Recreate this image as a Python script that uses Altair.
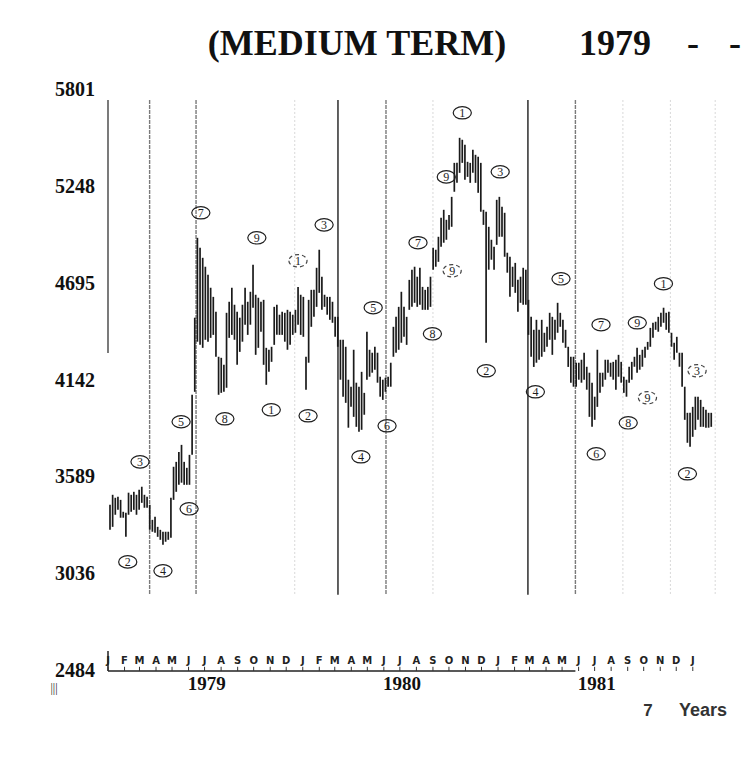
import altair as alt
import pandas as pd

# ---- price bars (high / low) ----
highs = [
    3433, 3490, 3473, 3479, 3461, 3393, 3387, 3502, 3490, 3507,
    3490, 3519, 3536, 3490, 3479, 3433, 3347, 3364, 3307, 3290,
    3279, 3279, 3279, 3473, 3650, 3678, 3735, 3775, 3678, 3644,
    3718, 4061, 4501, 4957, 4900, 4843, 4792, 4746, 4672, 4620,
    4535, 4278, 4272, 4232, 4529, 4592, 4672, 4575, 4535, 4501,
    4575, 4672, 4592, 4649, 4803, 4632, 4615, 4592, 4603, 4329,
    4318, 4335, 4563, 4575, 4518, 4535, 4529, 4546, 4535, 4518,
    4546, 4677, 4632, 4620, 4278, 4603, 4660, 4660, 4786, 4889,
    4735, 4632, 4620, 4620, 4592, 4506, 4506, 4375, 4375, 4335,
    4147, 4107, 4318, 4130, 4107, 4192, 4072, 4421, 4318, 4301,
    4335, 4301, 4164, 4147, 4158, 4164, 4244, 4449, 4506, 4563,
    4649, 4563, 4506, 4717, 4775, 4792, 4735, 4786, 4677, 4660,
    4677, 4735, 4900, 4889, 4963, 5071, 5117, 5060, 5088, 5191,
    5385, 5385, 5528, 5517, 5488, 5391, 5385, 5460, 5431, 5420,
    5385, 5117, 5106, 5020, 4946, 4906, 5174, 5191, 5134, 5100,
    4872, 4849, 4792, 4814, 4717, 4735, 4786, 4775, 4603, 4506,
    4432, 4489, 4432, 4489, 4415, 4449, 4529, 4506, 4489, 4586,
    4529, 4489, 4432, 4335, 4278, 4278, 4244, 4244, 4261, 4301,
    4221, 4187, 4130, 4050, 4318, 4187, 4187, 4261, 4261, 4244,
    4249, 4261, 4289, 4249, 4164, 4147, 4221, 4249, 4278, 4329,
    4289, 4318, 4335, 4363, 4443, 4472, 4478, 4506, 4529, 4558,
    4529, 4535, 4415, 4358, 4392, 4301, 4301, 4107, 3958, 3958,
    3992, 4050, 4050, 4032, 3992, 3975, 3958, 3958,
]
lows = [
    3290, 3307, 3376, 3404, 3359, 3359, 3250, 3376, 3393, 3404,
    3376, 3404, 3444, 3416, 3416, 3290, 3279, 3273, 3250, 3233,
    3205, 3222, 3233, 3245, 3461, 3507, 3547, 3559, 3547, 3547,
    3547, 3718, 4078, 4364, 4346, 4329, 4375, 4364, 4386, 4403,
    4278, 4061, 4072, 4078, 4101, 4386, 4403, 4375, 4232, 4306,
    4364, 4461, 4403, 4461, 4558, 4289, 4329, 4421, 4232, 4118,
    4192, 4249, 4346, 4403, 4403, 4403, 4364, 4318, 4346, 4403,
    4415, 4461, 4403, 4392, 4090, 4244, 4449, 4506, 4563, 4643,
    4546, 4563, 4518, 4489, 4472, 4392, 4335, 4147, 4050, 4015,
    3873, 3992, 3935, 3878, 3850, 3861, 3947, 4147, 4164, 4187,
    4204, 4130, 4050, 4032, 4078, 4107, 4107, 4278, 4301, 4318,
    4358, 4392, 4346, 4546, 4563, 4586, 4563, 4575, 4546, 4546,
    4546, 4563, 4775, 4792, 4820, 4906, 4929, 4946, 5003, 5020,
    5220, 5271, 5328, 5385, 5288, 5305, 5271, 5328, 5271, 5214,
    5106, 5031, 4358, 4775, 4832, 4775, 4917, 4963, 4963, 4849,
    4758, 4620, 4677, 4643, 4535, 4586, 4575, 4575, 4403, 4278,
    4220, 4244, 4261, 4278, 4306, 4335, 4375, 4289, 4375, 4415,
    4449, 4358, 4329, 4220, 4130, 4107, 4107, 4147, 4130, 4147,
    4090, 3935, 3878, 3918, 3992, 4072, 4107, 4147, 4187, 4164,
    4147, 4090, 4164, 4130, 4072, 4050, 4130, 4147, 4221, 4187,
    4204, 4221, 4272, 4318, 4335, 4386, 4432, 4421, 4449, 4472,
    4432, 4415, 4335, 4261, 4301, 4221, 4107, 3918, 3787, 3764,
    3821, 3861, 3918, 3878, 3878, 3873, 3873, 3878,
]
bar_start = "1979-01-04 18:00"
bar_end = "1982-02-04 14:00"

y_ticks = [2484, 3036, 3589, 4142, 4695, 5248, 5801]

month_letters = list("JFMAMJJASOND") * 3 + ["J"]
year_labels = ["1979", "1980", "1981"]
year_dates = ["1979-07-05", "1980-07-05", "1981-07-05"]

# cycle lines
dark_lines = ["1980-03-07", "1981-02-26"]
mid_lines = ["1979-03-20", "1979-06-15", "1980-06-05", "1981-05-26"]
faint_lines = ["1979-12-17", "1980-09-01", "1981-08-23", "1981-11-20", "1982-02-12"]
line_top, line_bottom = 5744, 2919
left_line = ["1979-01-01"]
left_line_bottom = 4300

# wave count annotations
wave_dates = ["1979-02-07", "1979-03-02", "1979-04-14", "1979-05-18", "1979-06-02",
              "1979-06-24", "1979-08-08", "1979-10-07", "1979-11-03", "1979-12-23",
              "1980-01-11", "1980-02-10", "1980-04-19", "1980-05-12", "1980-06-07",
              "1980-08-04", "1980-08-31", "1980-09-26", "1980-10-07", "1980-10-26",
              "1980-12-10", "1981-01-05", "1981-03-12", "1981-04-29", "1981-07-04",
              "1981-07-13", "1981-09-02", "1981-09-19", "1981-10-08", "1981-11-07",
              "1982-01-09", "1981-12-22"]
wave_values = [3107, 3678, 3056, 3907, 3410, 5100, 3924, 4957, 3975, 4826,
               3941, 5031, 3707, 4558, 3884, 4929, 4409, 5305, 4769, 5671,
               4198, 5334, 4078, 4723, 3724, 4461, 3901, 4472, 4044, 4695,
               4198, 3610]
wave_labels = ["2", "3", "4", "5", "6", "7", "8", "9", "1", "1",
               "2", "3", "4", "5", "6", "7", "8", "9", "9", "1",
               "2", "3", "4", "5", "6", "7", "8", "9", "9", "1",
               "3", "2"]
wave_dashed = [0, 0, 0, 0, 0, 0, 0, 0, 0, 1,
               0, 0, 0, 0, 0, 0, 0, 0, 1, 0,
               0, 0, 0, 0, 0, 0, 0, 0, 1, 0,
               1, 0]

# ---- tables ----
dates = pd.date_range(bar_start, bar_end, periods=len(highs)).strftime("%Y-%m-%dT%H:%M:%S").tolist()
bars = pd.DataFrame({"date": dates, "high": highs, "low": lows})
months = pd.DataFrame({
    "date": pd.date_range("1979-01-01", "1982-01-01", freq="MS").strftime("%Y-%m-%dT%H:%M:%S").tolist(),
    "letter": month_letters,
})
years = pd.DataFrame({"date": year_dates, "label": year_labels})
waves = pd.DataFrame({"date": wave_dates, "value": wave_values,
                      "label": wave_labels, "dashed": wave_dashed})
yticks_df = pd.DataFrame({"v": y_ticks, "t": [str(v) for v in y_ticks]})

xs = alt.Scale(domain=["1979-01-01T00:00:00", "1982-02-21T00:00:00"], padding=0, nice=False)
ys = alt.Scale(domain=[2484, 5801], nice=False, zero=False, padding=0)
X = lambda f: alt.X(f, type="temporal", scale=xs, axis=None)
Y = lambda f: alt.Y(f, type="quantitative", scale=ys, axis=None)


def vlines(date_list, top, bottom, color, width, dash=None):
    df = pd.DataFrame({"date": date_list, "top": [top] * len(date_list),
                       "bottom": [bottom] * len(date_list)})
    kw = dict(color=color, strokeWidth=width)
    if dash:
        kw["strokeDash"] = dash
    return alt.Chart(df).mark_rule(**kw).encode(x=X("date"), y=Y("top"), y2="bottom")


faint = vlines(faint_lines, line_top, line_bottom, "#d8d8d8", 1, [2, 2])
mid = vlines(mid_lines, line_top, line_bottom, "#7a7a7a", 1.4, [4, 1])
dark = vlines(dark_lines, line_top, line_bottom, "#3a3a3a", 1.6)
left = vlines(left_line, line_top, left_line_bottom, "#333333", 1.3)

bar_layer = alt.Chart(bars).mark_rule(color="#1a1a1a", strokeWidth=1.7).encode(
    x=X("date"), y=Y("high"), y2="low",
)

ylabels = alt.Chart(yticks_df).mark_text(
    font="Liberation Serif", fontWeight="bold", fontSize=20, color="#111",
    align="right", baseline="middle",
).encode(x=alt.value(-13), y=Y("v"), text="t:N")

baseline_df = pd.DataFrame({"start": ["1979-01-01"], "end": ["1981-05-26"], "v": [2484]})
baseline = alt.Chart(baseline_df).mark_rule(color="#222", strokeWidth=1.5).encode(
    x=X("start"), x2="end:T", y=Y("v"),
)
stem_df = pd.DataFrame({"date": ["1979-01-01"], "a": [2484], "b": [2598]})
stem = alt.Chart(stem_df).mark_rule(color="#222", strokeWidth=1.5).encode(
    x=X("date"), y=Y("a"), y2="b")

mt_df = months.assign(a=2484, b=2508)
month_ticks = alt.Chart(mt_df).mark_rule(color="#333", strokeWidth=1).encode(
    x=X("date"), y=Y("a"), y2="b")
month_text = alt.Chart(months.assign(v=2484)).mark_text(
    font="DejaVu Sans", fontWeight="bold", fontSize=10, color="#222",
    baseline="middle", dy=-10,
).encode(x=X("date"), y=Y("v"), text="letter:N")

year_text = alt.Chart(years.assign(v=2484)).mark_text(
    font="Liberation Serif", fontWeight="bold", fontSize=19, color="#111",
    baseline="middle", dy=13,
).encode(x=X("date"), y=Y("v"), text="label:N")

ellipse = "M -1 0 A 1 0.68 0 1 0 1 0 A 1 0.68 0 1 0 -1 0 Z"
circ_solid = alt.Chart(waves).transform_filter("datum.dashed == 0").mark_point(
    shape=ellipse, size=330, filled=False, color="#1e1e1e", strokeWidth=1.2, opacity=1,
).encode(x=X("date"), y=Y("value"))
circ_dash = alt.Chart(waves).transform_filter("datum.dashed == 1").mark_point(
    shape=ellipse, size=330, filled=False, color="#444", strokeWidth=1.2, strokeDash=[4, 3],
    opacity=1,
).encode(x=X("date"), y=Y("value"))
digits = alt.Chart(waves).mark_text(
    font="Liberation Serif", fontSize=12, color="#1e1e1e", baseline="middle", dy=0.5,
).encode(x=X("date"), y=Y("value"), text="label:N")


def label(text, x, y, **kw):
    return alt.Chart(pd.DataFrame({"t": [text]})).mark_text(**kw).encode(
        x=alt.value(x), y=alt.value(y), text="t:N")


title_kw = dict(font="Liberation Serif", fontWeight="bold", fontSize=36,
                color="#111", baseline="middle")
t1 = label("(MEDIUM TERM)", 249, -46, **title_kw)
t2 = label("1979", 507, -46, **title_kw)
t3 = label("-", 585, -46, **title_kw)
t4 = label("-", 627, -46, **title_kw)
bars_mark = label("|||", -54, 598, font="Liberation Serif", fontSize=12, color="#222",
                  baseline="middle")
seven = label("7", 540, 621, font="Liberation Sans", fontWeight="bold", fontSize=17,
              color="#333", baseline="middle")
yrs = label("Years", 571, 621, font="Liberation Sans", fontWeight="bold", fontSize=18,
            color="#333", baseline="middle", align="left")

chart = alt.layer(
    faint, mid, dark, left, bar_layer, ylabels, baseline, stem, month_ticks, month_text,
    year_text, circ_solid, circ_dash, digits, t1, t2, t3, t4, bars_mark, seven, yrs,
).properties(
    width=612, height=581,
    autosize=alt.AutoSizeParams(type="none"),
    padding={"left": 100, "top": 82, "right": 24, "bottom": 66},
    background="white",
).configure_view(stroke=None)

chart.save("out.html", embed_options={"renderer": "svg", "actions": False})
